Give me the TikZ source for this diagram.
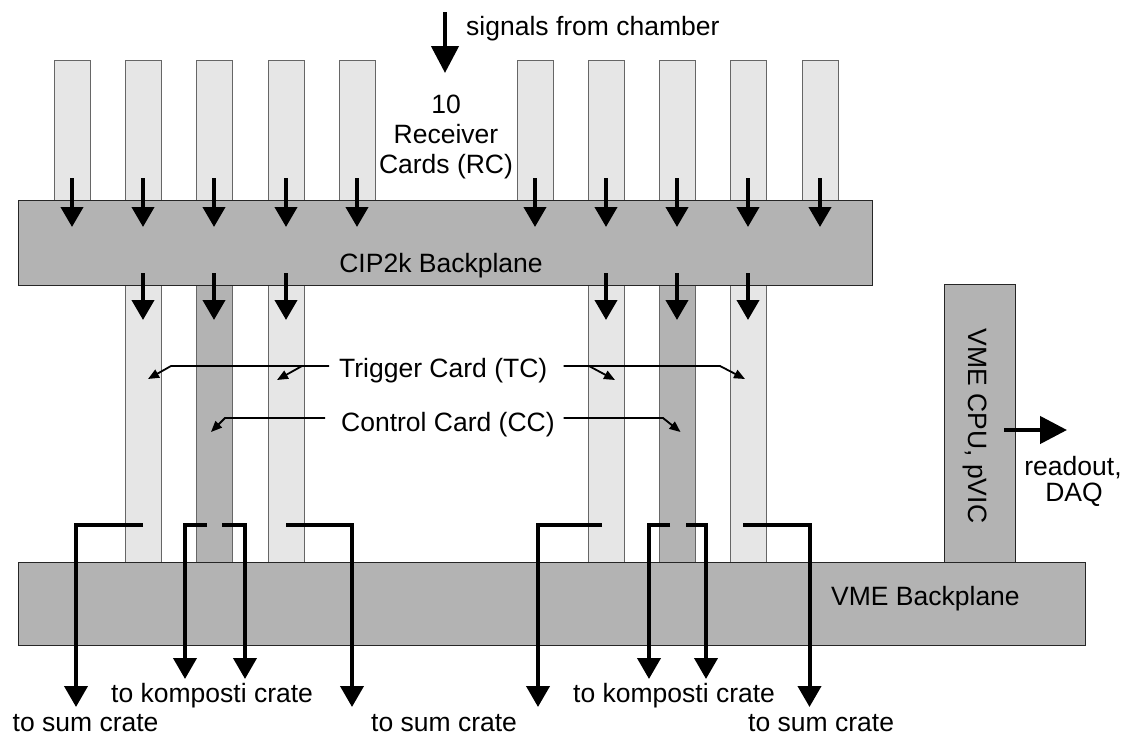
\documentclass[tikz,border=0pt]{standalone}
\usepackage{fontspec}
\setmainfont{Liberation Sans}
\usetikzlibrary{arrows.meta,calc}
\definecolor{lightcard}{RGB}{230,230,230}
\definecolor{darkcard}{RGB}{179,179,179}
\begin{document}
\begin{tikzpicture}[x=1pt,y=-1pt,
  card/.style={draw=black!60, line width=1pt, fill=lightcard, anchor=north west, inner sep=0pt, outer sep=0pt, minimum width=36pt},
  dcard/.style={card, fill=darkcard},
  plane/.style={draw=black!85, line width=1pt, fill=darkcard, anchor=north west, inner sep=0pt, outer sep=0pt},
  txt/.style={font=\fontsize{26.5}{30}\selectfont, inner sep=0pt},
  bigarrow/.style={line width=4pt, -{Triangle[length=20pt,width=22pt]}},
  hugearrow/.style={line width=4.5pt, -{Triangle[length=27pt,width=27pt]}},
  conn/.style={line width=4pt, line join=miter, -{Triangle[length=21pt,width=23pt]}},
  ptr/.style={line width=1.8pt, -{Triangle[length=11pt,width=9pt]}}
]
\useasboundingbox (0,0) rectangle (1123,736);

% receiver cards
\foreach \i/\x in {1/54,2/125,3/196,4/268,5/339,6/517,7/588,8/659,9/730,10/802}
  \node[card, minimum height=140pt] (rc\i) at (\x,60) {};

% trigger and control cards
\node[card,  minimum height=277pt] (tc1) at (125,285) {};
\node[dcard, minimum height=277pt] (cc1) at (196,285) {};
\node[card,  minimum height=277pt] (tc2) at (268,285) {};
\node[card,  minimum height=277pt] (tc3) at (588,285) {};
\node[dcard, minimum height=277pt] (cc2) at (659,285) {};
\node[card,  minimum height=277pt] (tc4) at (730,285) {};

% VME CPU
\node[plane, minimum width=71pt, minimum height=278pt] (cpu) at (944,284) {};

% backplanes
\node[plane, minimum width=854pt, minimum height=85pt] (cip) at (18,200) {};
\node[plane, minimum width=1067pt, minimum height=83pt] (vme) at (18,562) {};

% texts
\node[txt, anchor=base west] (sig) at (466,35) {signals from chamber};
\node[txt, anchor=base] (n10) at (446,113) {10};
\node[txt, anchor=base] (nrec) at (446,143) {Receiver};
\node[txt, anchor=base] (ncards) at (446,173) {Cards (RC)};
\node[txt, anchor=base] (ciptxt) at (441,272) {CIP2k Backplane};
\node[txt, anchor=base west] (tclbl) at (339,377) {Trigger Card (TC)};
\node[txt, anchor=base west] (cclbl) at (341,431) {Control Card (CC)};
\node[txt, anchor=base west] (vmetxt) at (831,605) {VME Backplane};
\node[txt, rotate=-90, anchor=base] (cputxt) at (968,426) {VME CPU, pVIC};
\node[txt, anchor=base] (ro1) at (1073,475) {readout,};
\node[txt, anchor=base] (ro2) at (1074,501) {DAQ};
\node[txt, anchor=base west] (ts1) at (12.5,731) {to sum crate};
\node[txt, anchor=base west] (ts2) at (371,731) {to sum crate};
\node[txt, anchor=base west] (ts3) at (748,731) {to sum crate};
\node[txt, anchor=base west] (tk1) at (111,702) {to komposti crate};
\node[txt, anchor=base west] (tk2) at (573,702) {to komposti crate};

% signals arrow
\coordinate (sig0) at (445,12);
\coordinate (sig1) at (445,73);
\draw[hugearrow] (sig0) -- (sig1);

% RC -> CIP arrows
\foreach \i in {1,...,10}
  \draw[bigarrow] ([yshift=22pt]rc\i.south) -- ([yshift=-27pt]rc\i.south);

% CIP -> TC/CC arrows
\foreach \n in {tc1,cc1,tc2,tc3,cc2,tc4}
  \draw[bigarrow] ([yshift=12pt]\n.north) -- ([yshift=-35pt]\n.north);

% readout arrow
\coordinate (ro) at (1067,430);
\draw[hugearrow] ([xshift=-11pt,yshift=-7pt]cpu.east) -- (ro);

% bottom connectors
\coordinate (yb) at (0,525);
\coordinate (s1) at (76,707);
\coordinate (k1) at (185,679);
\coordinate (k2) at (245,679);
\coordinate (s2) at (352,707);
\coordinate (s3) at (538,707);
\coordinate (k3) at (649,679);
\coordinate (k4) at (706,679);
\coordinate (s4) at (809.5,707);
\draw[conn] (tc1.center |- yb) -| (s1);
\draw[conn] ($(cc1.center |- yb)+(-7,0)$) -| (k1);
\draw[conn] ($(cc1.center |- yb)+(8,0)$) -| (k2);
\draw[conn] (tc2.center |- yb) -| (s2);
\draw[conn] ($(tc3.center |- yb)+(-4,0)$) -| (s3);
\draw[conn] ($(cc2.center |- yb)+(-7,0)$) -| (k3);
\draw[conn] ($(cc2.center |- yb)+(9,0)$) -| (k4);
\draw[conn] ($(tc4.center |- yb)+(-5,0)$) -| (s4);

% label pointers
\coordinate (tcL) at (329,366);
\coordinate (tcR) at (563.5,366);
\coordinate (ccL) at (325,418);
\coordinate (ccR) at (563.5,418);
\coordinate (ta1) at (148,379);
\coordinate (ta2) at (277,380);
\coordinate (ta3) at (745,379);
\coordinate (ta4) at (615,380);
\coordinate (ca1) at (211,432);
\coordinate (ca2) at (680.5,432);
\draw[ptr] (tcL) -- (171,366) -- (ta1);
\draw[ptr] (302,366) -- (ta2);
\draw[ptr] (tcR) -- (720,366) -- (ta3);
\draw[ptr] (589,366) -- (ta4);
\draw[ptr] (ccL) -- (225,418) -- (ca1);
\draw[ptr] (ccR) -- (663,418) -- (ca2);
\end{tikzpicture}
\end{document}
